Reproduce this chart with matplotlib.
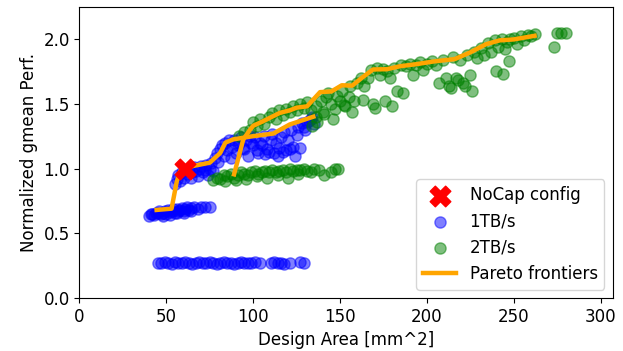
import matplotlib
matplotlib.use("Agg")
import matplotlib.pyplot as plt

# ---------------- data ----------------
# NoCap configuration
nocap_x = [61]
nocap_y = [1.0]

# 1TB/s design points
tb1_low_x = [45, 47, 49, 51, 53, 55, 57, 59, 61, 63, 65, 67, 69, 71, 73, 75, 77, 79,
             81, 83, 85, 87, 89, 91, 93, 95, 97, 99, 101, 104, 110, 112, 114, 116,
             118, 121, 127, 129]
tb1_low_y = [0.27, 0.27, 0.275, 0.27, 0.265, 0.275, 0.27, 0.27, 0.275, 0.27, 0.265,
             0.27, 0.275, 0.27, 0.27, 0.275, 0.27, 0.265, 0.27, 0.275, 0.27, 0.27,
             0.265, 0.27, 0.275, 0.27, 0.27, 0.27, 0.275, 0.27, 0.27, 0.275, 0.27,
             0.27, 0.265, 0.27, 0.275, 0.27]

tb1_mid_x = [40, 41, 42, 43, 44, 45, 46, 47, 48, 49, 50, 51, 52, 53, 54, 55, 56, 57,
             58, 59, 60, 61, 62, 63, 64, 66, 68, 70, 72, 75, 48, 52, 56, 60, 64]
tb1_mid_y = [0.63, 0.645, 0.65, 0.64, 0.66, 0.655, 0.67, 0.65, 0.66, 0.675, 0.65,
             0.68, 0.665, 0.67, 0.685, 0.66, 0.69, 0.675, 0.68, 0.695, 0.67, 0.69,
             0.7, 0.68, 0.695, 0.7, 0.69, 0.705, 0.70, 0.70, 0.635, 0.64, 0.655,
             0.66, 0.67]

tb1_up_x = [55, 56, 57, 58, 59, 60, 61, 62, 63, 64, 65, 66, 67, 68, 69, 70, 71, 72,
            73, 74, 75, 76, 77, 78, 79, 80, 81, 82, 83, 84, 85, 86, 87, 88, 89, 90,
            92, 93, 95, 96, 97, 98, 100, 101, 103, 104, 106, 108, 110, 111, 112,
            113, 115, 116, 118, 119, 120, 122, 123, 125, 126, 128, 130, 132, 134,
            135, 107, 109, 114, 117, 121, 124, 127, 129, 131, 133, 91, 94, 99, 102,
            105]
tb1_up_y = [0.88, 0.92, 0.95, 0.90, 0.97, 0.93, 0.99, 0.96, 1.0, 0.93, 0.97, 1.01,
            0.98, 0.94, 1.0, 1.02, 0.97, 0.99, 1.03, 0.95, 1.0, 1.04, 0.98, 1.08,
            1.12, 1.05, 1.15, 1.18, 1.10, 1.20, 1.14, 1.22, 1.08, 1.17, 1.22, 1.12,
            1.20, 1.24, 1.15, 1.22, 1.10, 1.25, 1.18, 1.24, 1.12, 1.20, 1.25, 1.15,
            1.22, 1.27, 1.12, 1.20, 1.16, 1.24, 1.28, 1.14, 1.22, 1.30, 1.17, 1.26,
            1.32, 1.35, 1.30, 1.37, 1.40, 1.34, 1.11, 1.13, 1.10, 1.13, 1.15, 1.10,
            1.16, 1.32, 1.36, 1.38, 1.18, 1.16, 1.20, 1.14, 1.18]

# 2TB/s design points
tb2_flat_x = [77, 79, 81, 83, 85, 87, 89, 91, 93, 95, 97, 99, 101, 103, 105, 107,
              109, 111, 113, 115, 117, 119, 121, 123, 125, 127, 129, 131, 133, 135,
              138, 141, 145, 147, 149, 84, 90, 96, 102, 108, 114, 120, 126]
tb2_flat_y = [0.91, 0.93, 0.92, 0.95, 0.94, 0.96, 0.93, 0.95, 0.97, 0.96, 0.95,
              0.97, 0.98, 0.96, 0.97, 0.98, 0.97, 0.99, 0.97, 0.98, 0.99, 0.97,
              1.0, 0.98, 0.99, 0.99, 1.0, 0.98, 0.97, 1.0, 0.99, 0.95, 0.97,
              1.0, 1.0, 0.90, 0.91, 0.92, 0.94, 0.93, 0.95, 0.93, 0.96]

tb2_up_x = [92, 95, 98, 100, 102, 104, 106, 109, 111, 113, 115, 117, 119, 121, 123,
            125, 127, 129, 131, 133, 134, 136, 137, 139, 140, 142, 143, 145, 147,
            148, 150, 151, 153, 155, 156, 158, 160, 162, 164, 166, 168, 169, 171,
            173, 175, 177, 179, 181, 183, 185, 186, 188, 190, 192, 194, 196, 198,
            200, 203, 205, 207, 209, 211, 213, 215, 217, 219, 221, 223, 225, 227,
            229, 231, 233, 235, 237, 239, 241, 243, 245, 246, 248, 250, 252, 254,
            256, 258, 260, 262, 273, 275, 277, 280, 136, 141, 146, 152, 157, 163,
            170, 176, 180, 214, 218, 222, 226, 240, 244, 247]
tb2_up_y = [1.25, 1.28, 1.30, 1.36, 1.33, 1.38, 1.34, 1.40, 1.43, 1.38, 1.45, 1.41,
            1.46, 1.44, 1.48, 1.45, 1.50, 1.47, 1.51, 1.45, 1.33, 1.48, 1.36, 1.52,
            1.44, 1.55, 1.58, 1.50, 1.46, 1.56, 1.52, 1.60, 1.48, 1.55, 1.64, 1.52,
            1.66, 1.70, 1.64, 1.70, 1.76, 1.50, 1.78, 1.72, 1.77, 1.75, 1.70, 1.78,
            1.60, 1.80, 1.58, 1.79, 1.81, 1.72, 1.80, 1.82, 1.76, 1.81, 1.83, 1.80,
            1.66, 1.84, 1.70, 1.64, 1.86, 1.70, 1.84, 1.66, 1.88, 1.72, 1.90, 1.85,
            1.93, 1.88, 1.97, 1.90, 1.99, 1.94, 2.00, 1.92, 1.98, 2.00, 2.01, 1.96,
            2.02, 1.99, 2.03, 2.02, 2.04, 1.94, 2.05, 2.05, 2.05, 1.40, 1.42, 1.38,
            1.49, 1.44, 1.53, 1.47, 1.52, 1.48, 1.62, 1.68, 1.64, 1.60, 1.75, 1.73,
            1.83]

# Pareto frontiers
par1_x = [44.4, 53, 56, 58, 61, 65.5, 75, 81, 84, 88.5, 100, 111.6, 121, 134.6]
par1_y = [0.68, 0.69, 0.90, 0.98, 1.0, 1.02, 1.045, 1.12, 1.20, 1.225, 1.25, 1.27,
          1.34, 1.40]
par2_x = [89, 94.3, 98.2, 100, 104.9, 111.6, 115.4, 121.2, 125, 131, 138.5, 145,
          151, 157, 162.5, 169, 177, 184.5, 194, 204, 216, 225, 234, 242, 250, 262]
par2_y = [0.955, 1.225, 1.30, 1.33, 1.36, 1.405, 1.43, 1.45, 1.47, 1.48, 1.59,
          1.595, 1.643, 1.64, 1.70, 1.765, 1.767, 1.79, 1.806, 1.827, 1.845, 1.897,
          1.96, 1.99, 1.997, 2.025]

# ---------------- plot ----------------
plt.rcParams["font.size"] = 12
fig = plt.figure(figsize=(6.23, 3.51), dpi=100)
ax = fig.add_axes([0.1276, 0.151, 0.8559, 0.830])

tb1_x = tb1_low_x + tb1_mid_x + tb1_up_x
tb1_y = tb1_low_y + tb1_mid_y + tb1_up_y
tb2_x = tb2_flat_x + tb2_up_x
tb2_y = tb2_flat_y + tb2_up_y

ax.scatter(tb1_x, tb1_y, s=65, color="blue", alpha=0.5, label="1TB/s", zorder=2)
ax.scatter(tb2_x, tb2_y, s=65, color="green", alpha=0.5, label="2TB/s", zorder=2)
ax.plot(par1_x, par1_y, color="orange", lw=3.2, label="Pareto frontiers", zorder=3)
ax.plot(par2_x, par2_y, color="orange", lw=3.2, zorder=3)
ax.scatter(nocap_x, nocap_y, marker="X", s=220, color="red", label="NoCap config",
           zorder=4)

ax.set_xlim(0, 307)
ax.set_ylim(0, 2.25)
ax.set_xticks([0, 50, 100, 150, 200, 250, 300])
ax.set_yticks([0.0, 0.5, 1.0, 1.5, 2.0])
ax.set_xlabel("Design Area [mm^2]")
ax.set_ylabel("Normalized gmean Perf.")

h, l = ax.get_legend_handles_labels()
order = [l.index("NoCap config"), l.index("1TB/s"), l.index("2TB/s"),
         l.index("Pareto frontiers")]
ax.legend([h[i] for i in order], [l[i] for i in order], loc="lower right")

fig.savefig("out.png", dpi=100)
